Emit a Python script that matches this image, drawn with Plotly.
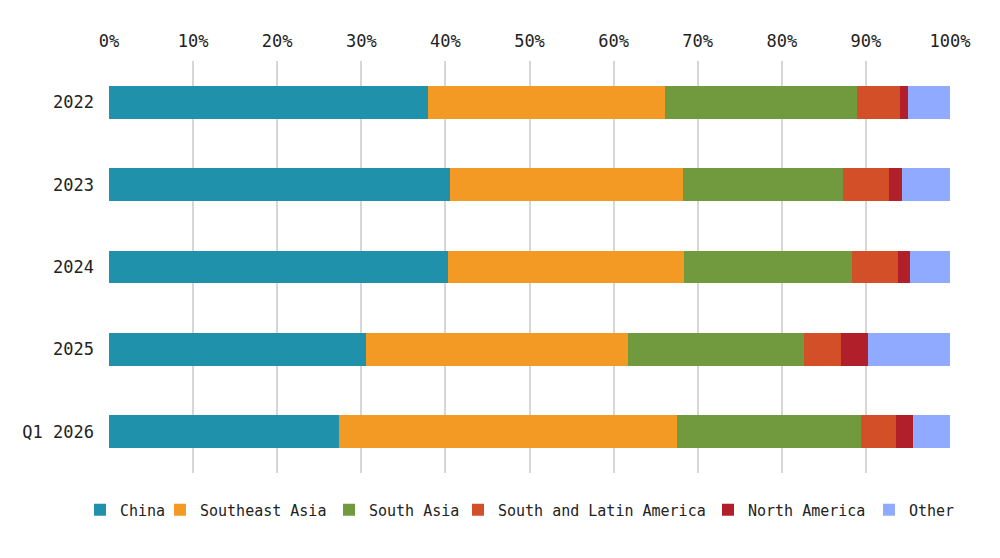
import plotly.graph_objects as go

categories = ["2022", "2023", "2024", "2025", "Q1 2026"]
china = [37.9, 40.5, 40.3, 30.5, 27.3]
southeast_asia = [28.2, 27.8, 28.1, 31.2, 40.2]
south_asia = [22.8, 19.0, 19.9, 20.9, 21.9]
south_latin_america = [5.1, 5.4, 5.5, 4.4, 4.2]
north_america = [1.0, 1.6, 1.5, 3.2, 2.0]
other = [5.0, 5.7, 4.7, 9.8, 4.4]

series_names = ["China", "Southeast Asia", "South Asia",
                "South and Latin America", "North America", "Other"]
series_values = [china, southeast_asia, south_asia,
                 south_latin_america, north_america, other]
series_colors = ["#1f91aa", "#f39a24", "#719a3f", "#d24f27", "#b01f2a", "#8faaff"]

tick_vals = [0, 10, 20, 30, 40, 50, 60, 70, 80, 90, 100]
tick_text = [f"{v}%" for v in tick_vals]

FONT = "DejaVu Sans Mono"

# page x where each legend entry's text starts (layout only)
legend_text_px = [120, 200, 369, 498, 748, 909]
PLOT_LEFT_PX = 109
PLOT_W = 841

fig = go.Figure()
layout_legends = {}
for i, (name, vals, color) in enumerate(zip(series_names, series_values, series_colors)):
    key = "legend" if i == 0 else f"legend{i + 1}"
    fig.add_trace(go.Bar(
        y=categories, x=vals, name=name, orientation="h",
        marker=dict(color=color, line=dict(width=0)),
        width=0.4, legend=key,
    ))
    layout_legends[key] = dict(
        orientation="h",
        x=(legend_text_px[i] - 40 - PLOT_LEFT_PX) / PLOT_W, xanchor="left",
        y=-0.09, yanchor="middle",
        font=dict(family=FONT, size=15, color="#222222"),
        bgcolor="rgba(0,0,0,0)", borderwidth=0,
    )

fig.update_layout(
    barmode="stack",
    width=992, height=550,
    margin=dict(l=101, r=50, t=53, b=85),
    paper_bgcolor="white", plot_bgcolor="white",
    font=dict(family=FONT, size=17, color="#222222"),
    xaxis=dict(
        side="top", range=[0, 100], tickvals=tick_vals, ticktext=tick_text,
        showgrid=True, gridcolor="#d6d6d6", gridwidth=1.5,
        zeroline=False, showline=False, ticks="", ticklabelstandoff=10,
        tickfont=dict(family=FONT, size=17, color="#222222"),
        fixedrange=True,
    ),
    yaxis=dict(
        categoryorder="array", categoryarray=categories, autorange="reversed",
        showgrid=False, zeroline=False, showline=False, ticks="",
        ticklabelstandoff=14,
        tickfont=dict(family=FONT, size=17, color="#222222"),
    ),
    showlegend=True,
    **layout_legends,
)

fig.write_html("out.html")
